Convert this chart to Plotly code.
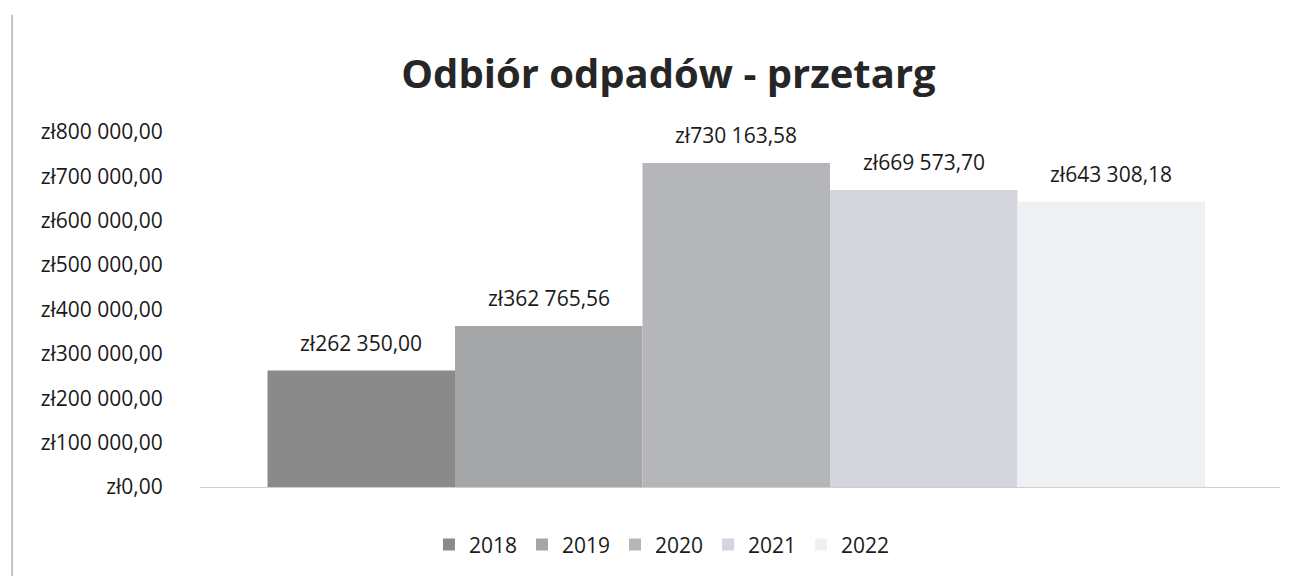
import plotly.graph_objects as go

years = ["2018", "2019", "2020", "2021", "2022"]
values = [262350.00, 362765.56, 730163.58, 669573.70, 643308.18]
bar_colors = ["#8a8a8a", "#a5a6a8", "#b5b6ba", "#d5d6dd", "#eff0f4"]

tick_vals = [0, 100000, 200000, 300000, 400000, 500000, 600000, 700000, 800000]


def pln(v):
    # Excel-style currency label: zł262 350,00
    whole, frac = f"{v:,.2f}".split(".")
    return "zł" + whole.replace(",", " ") + "," + frac


FONT = "Open Sans"

fig = go.Figure()

for i, (yr, val, col) in enumerate(zip(years, values, bar_colors)):
    fig.add_trace(go.Bar(
        x=[i], y=[val],
        width=1.0,
        name=yr,
        marker=dict(color=col, line=dict(width=0)),
        hoverinfo="skip",
    ))
    # data label above each bar
    fig.add_annotation(
        x=i, y=val, text=pln(val),
        showarrow=False, yanchor="bottom", yshift=12,
        font=dict(family=FONT, size=21, color="#1a1a1a"),
    )

# faint frame line on the left edge of the scanned chart
fig.add_shape(type="line", xref="paper", yref="paper",
              x0=-0.174, x1=-0.174, y0=1.33, y1=-0.28,
              line=dict(color="#c4c4c4", width=2))

fig.update_layout(
    width=1295, height=576,
    margin=dict(l=192, r=23, t=124, b=97),
    paper_bgcolor="white",
    plot_bgcolor="white",
    font=dict(family=FONT, color="#1a1a1a"),
    title=dict(
        text="<b>Odbiór odpadów - przetarg</b>",
        x=0.51, xref="container", xanchor="center",
        y=0.885, yref="container", yanchor="middle",
        font=dict(family=FONT, size=40, color="#262626"),
    ),
    barmode="overlay",
    showlegend=True,
    legend=dict(
        orientation="h",
        x=0.505, xref="container", xanchor="center",
        y=0.068, yref="container", yanchor="middle",
        font=dict(family=FONT, size=21, color="#1a1a1a"),
        itemwidth=30,
        traceorder="normal",
    ),
    xaxis=dict(
        range=[-0.86, 4.9],
        showticklabels=False,
        showgrid=False,
        zeroline=False,
        showline=True, linecolor="#cfcfcf", linewidth=1,
        ticks="",
    ),
    yaxis=dict(
        range=[0, 800000],
        tickvals=tick_vals,
        ticktext=[pln(v) for v in tick_vals],
        tickfont=dict(family=FONT, size=21, color="#1a1a1a"),
        showgrid=False,
        zeroline=False,
        showline=False,
        ticks="outside", ticklen=32, tickcolor="rgba(0,0,0,0)",
    ),
)

fig.write_html("out.html")
